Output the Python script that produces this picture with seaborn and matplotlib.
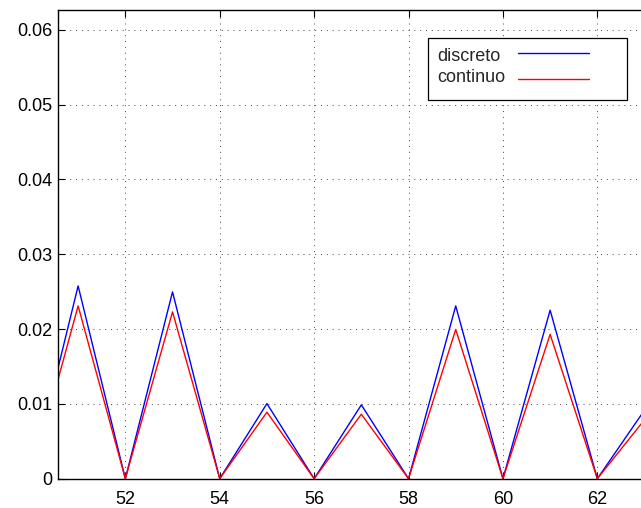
import matplotlib
matplotlib.use("Agg")
import matplotlib.pyplot as plt
from matplotlib.patches import Rectangle
from matplotlib.lines import Line2D
import seaborn as sns
import pandas as pd

x_vals = [50, 51, 52, 53, 54, 55, 56, 57, 58, 59, 60, 61, 62, 63, 64]
discreto = [0.0, 0.02577, 0.0, 0.02497, 0.0, 0.01004, 0.0, 0.00987, 0.0, 0.0231, 0.0, 0.02253, 0.0, 0.00917, 0.0]
continuo = [0.0, 0.0231, 0.0, 0.0223, 0.0, 0.00889, 0.0, 0.00862, 0.0, 0.01995, 0.0, 0.0193, 0.0, 0.00788, 0.0]
series_names = ["discreto", "continuo"]
y_ticks = [0, 0.01, 0.02, 0.03, 0.04, 0.05, 0.06]
y_tick_labels = ["0", "0.01", "0.02", "0.03", "0.04", "0.05", "0.06"]
x_ticks = [52, 54, 56, 58, 60, 62]
colors = {"discreto": (0, 0, 1), "continuo": (1, 0, 0)}

df = pd.DataFrame({
    "x": x_vals * 2,
    "y": discreto + continuo,
    "serie": [series_names[0]] * len(x_vals) + [series_names[1]] * len(x_vals),
})

sns.set_style("ticks")
plt.rcParams["font.family"] = ["Liberation Sans", "DejaVu Sans"]

W, H = 641, 508
fig = plt.figure(figsize=(W / 100, H / 100), dpi=100)
xmin, xmax = 50.58, 63.5
px_per_unit = 47.2
left_px, top_px, bottom_px = 58.3, 9.7, 478.7
ax = fig.add_axes([left_px / W, (H - bottom_px) / H,
                   (xmax - xmin) * px_per_unit / W, (bottom_px - top_px) / H])

sns.lineplot(data=df, x="x", y="y", hue="serie", palette=colors,
             linewidth=1.0, ax=ax, legend=False, sort=False)

ax.set_xlim(xmin, xmax)
ax.set_ylim(0, 0.0627)
ax.set_xticks(x_ticks)
ax.set_yticks(y_ticks)
ax.set_yticklabels(y_tick_labels)
ax.set_xlabel("")
ax.set_ylabel("")
ax.tick_params(direction="in", top=True, right=True, length=5, width=0.8,
               labelsize=13, colors="black")
ax.tick_params(axis="x", pad=9)
ax.tick_params(axis="y", pad=4)
for s in ax.spines.values():
    s.set_linewidth(1.0)
    s.set_color("black")
ax.grid(True, color="#444444", linestyle=(0, (1, 5)), linewidth=0.7)

# legend (box, labels, sample lines) in figure pixel coordinates
def fx(px):
    return px / W

def fy(py):
    return 1 - py / H

lx0, lx1, ly0, ly1 = 427.7, 626.7, 38.3, 100.0
rect = Rectangle((fx(lx0), fy(ly1)), (lx1 - lx0) / W, (ly1 - ly0) / H,
                 transform=fig.transFigure, facecolor="white", edgecolor="black",
                 linewidth=0.9, zorder=5)
fig.patches.append(rect)
label_baselines = [61, 82]
line_ys = [53, 79]
for name, base, ly in zip(series_names, label_baselines, line_ys):
    fig.text(fx(437), fy(base), name, fontsize=13, ha="left", va="baseline", zorder=6)
    fig.lines.append(Line2D([fx(518), fx(589)], [fy(ly), fy(ly)], color=colors[name],
                            lw=1.0, transform=fig.transFigure, zorder=6))

fig.savefig("out.png", dpi=100)
